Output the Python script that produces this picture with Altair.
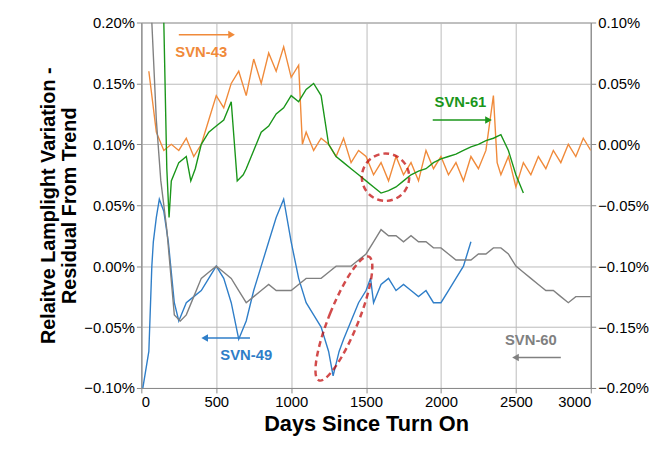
import pandas as pd
import altair as alt

# values in left-axis units (%); right axis = left - 0.10
days_43 = [50,100,150,200,250,300,350,400,450,500,550,600,650,700,750,800,850,900,950,1000,1050,1075,1100,1150,1200,1250,1300,1350,1400,1450,1500,1550,1600,1650,1700,1750,1800,1850,1900,1950,2000,2050,2100,2150,2200,2250,2300,2350,2375,2400,2450,2500,2550,2600,2650,2700,2750,2800,2850,2900,2950,3000]
svn_43 = [0.16,0.11,0.095,0.10,0.095,0.105,0.09,0.10,0.12,0.14,0.13,0.15,0.16,0.14,0.17,0.15,0.175,0.16,0.18,0.155,0.165,0.10,0.11,0.095,0.105,0.10,0.09,0.105,0.085,0.095,0.09,0.075,0.085,0.07,0.09,0.075,0.085,0.07,0.095,0.08,0.09,0.075,0.085,0.07,0.09,0.08,0.095,0.14,0.085,0.075,0.09,0.065,0.085,0.075,0.09,0.08,0.095,0.085,0.10,0.09,0.105,0.095]

days_61 = [150,170,185,200,250,300,330,360,400,450,500,550,600,640,680,700,750,800,850,900,950,1000,1050,1100,1150,1200,1250,1300,1350,1400,1450,1500,1550,1600,1650,1700,1750,1800,1850,1900,1950,2000,2050,2100,2150,2200,2250,2300,2350,2400,2450,2500,2550]
svn_61 = [0.20,0.08,0.04,0.07,0.085,0.09,0.07,0.08,0.10,0.11,0.115,0.12,0.135,0.07,0.075,0.08,0.095,0.11,0.115,0.125,0.13,0.14,0.135,0.145,0.15,0.14,0.10,0.09,0.085,0.08,0.075,0.07,0.065,0.06,0.062,0.065,0.07,0.075,0.078,0.08,0.085,0.088,0.09,0.092,0.095,0.098,0.10,0.103,0.105,0.108,0.095,0.075,0.06]

days_49 = [10,50,70,80,100,120,150,180,220,250,300,350,400,450,500,550,600,650,700,750,800,850,900,950,1000,1050,1100,1150,1200,1250,1280,1320,1350,1400,1450,1500,1530,1550,1600,1650,1700,1750,1800,1850,1900,1950,2000,2050,2100,2150,2200]
svn_49 = [-0.10,-0.07,0.0,0.02,0.04,0.055,0.045,0.02,-0.03,-0.045,-0.03,-0.025,-0.02,-0.01,0.0,-0.01,-0.03,-0.06,-0.045,-0.02,0.0,0.02,0.04,0.055,0.02,-0.01,-0.03,-0.04,-0.05,-0.07,-0.09,-0.07,-0.06,-0.045,-0.03,-0.02,-0.01,-0.03,-0.015,-0.01,-0.02,-0.015,-0.02,-0.025,-0.02,-0.03,-0.03,-0.02,-0.01,0.0,0.02]

days_60 = [70,100,130,170,220,260,300,350,400,450,500,550,600,650,700,750,800,850,900,950,1000,1050,1100,1150,1200,1250,1300,1350,1400,1450,1500,1550,1600,1650,1700,1750,1800,1850,1900,1950,2000,2050,2100,2150,2200,2250,2300,2350,2400,2450,2500,2550,2600,2650,2700,2750,2800,2850,2900,2950,3000]
svn_60 = [0.20,0.12,0.07,0.03,-0.04,-0.045,-0.04,-0.025,-0.01,-0.005,0.0,-0.005,-0.01,-0.02,-0.03,-0.025,-0.02,-0.015,-0.02,-0.02,-0.02,-0.015,-0.01,-0.01,-0.01,-0.005,0.0,0.0,0.0,0.005,0.01,0.02,0.03,0.025,0.025,0.02,0.025,0.02,0.02,0.015,0.015,0.01,0.005,0.005,0.005,0.01,0.01,0.015,0.015,0.01,0.0,-0.005,-0.01,-0.015,-0.02,-0.02,-0.025,-0.03,-0.025,-0.025,-0.025]

series = ["SVN-43", "SVN-61", "SVN-49", "SVN-60"]
colors = ["#F08A3A", "#1A961A", "#2F7EC8", "#808080"]
text_colors = ["#C55A11", "#178A17", "#2F7EC8", "#9A9A9A"]

rows = []
for name, d, v in [("SVN-43", days_43, svn_43), ("SVN-61", days_61, svn_61),
                   ("SVN-49", days_49, svn_49), ("SVN-60", days_60, svn_60)]:
    rows += [{"series": name, "day": a, "val": b} for a, b in zip(d, v)]
df = pd.DataFrame(rows)

label_df = pd.DataFrame({"series": series, "day": [400, 2130, 700, 2600],
                         "val": [0.176, 0.135, -0.073, -0.061]})
arrow_df = pd.DataFrame({"series": series, "x1": [250, 1945, 725, 2800],
                         "x2": [595, 2310, 430, 2505], "val": [0.19, 0.12, -0.059, -0.075],
                         "ang": [90, 90, 270, 270]})
ell_df = pd.DataFrame({"day": [1630, 1352], "val": [0.073, -0.043],
                       "shape": ["circle", "M -0.22 0 A 0.22 1 0 1 0 0.22 0 A 0.22 1 0 1 0 -0.22 0"],
                       "size": [2300, 18225], "ang": [0, 22]})

font = "Liberation Sans"
xs = alt.Scale(domain=[0, 3000], nice=False)
ys = alt.Scale(domain=[-0.10, 0.20], nice=False)
col = alt.Color("series:N", scale=alt.Scale(domain=series, range=colors), legend=None)

lines = alt.Chart(df).mark_line(strokeWidth=1.4, clip=True).encode(
    x=alt.X("day:Q", scale=xs, title="Days Since Turn On",
            axis=alt.Axis(values=list(range(0, 3001, 500)), format="d", labelFontSize=15,
                          titleFontSize=22, titleFont=font, labelFont=font, gridColor="#BBBBBB")),
    y=alt.Y("val:Q", scale=ys, title=["Relaitve Lamplight Variation -", "Residual From Trend"],
            axis=alt.Axis(values=[-0.10, -0.05, 0, 0.05, 0.10, 0.15, 0.20],
                          labelExpr="format(datum.value, '.2f') + '%'", labelFontSize=15,
                          titleFontSize=20, titleFont=font, labelFont=font, gridColor="#BBBBBB")),
    color=col, detail="series:N")

labels = alt.Chart(label_df).mark_text(fontSize=15, fontWeight="bold", font=font).encode(
    x=alt.X("day:Q", scale=xs), y=alt.Y("val:Q", scale=ys),
    color=alt.Color("series:N", scale=alt.Scale(domain=series, range=text_colors), legend=None),
    text="series:N")

shafts = alt.Chart(arrow_df).mark_rule(strokeWidth=1.5).encode(
    x=alt.X("x1:Q", scale=xs), x2="x2:Q", y=alt.Y("val:Q", scale=ys),
    color=alt.Color("series:N", scale=alt.Scale(domain=series, range=text_colors), legend=None))
heads = alt.Chart(arrow_df).mark_point(shape="triangle", filled=True, size=60, opacity=1).encode(
    x=alt.X("x2:Q", scale=xs), y=alt.Y("val:Q", scale=ys), angle=alt.Angle("ang:Q", scale=None),
    color=alt.Color("series:N", scale=alt.Scale(domain=series, range=text_colors), legend=None))

ellipses = alt.Chart(ell_df).mark_point(color="#C00000", strokeWidth=2.5, strokeDash=[6, 4]).encode(
    x=alt.X("day:Q", scale=xs), y=alt.Y("val:Q", scale=ys),
    shape=alt.Shape("shape:N", scale=None), size=alt.Size("size:Q", scale=None),
    angle=alt.Angle("ang:Q", scale=None))

left = alt.layer(lines, labels, shafts, heads, ellipses)

right = alt.Chart(pd.DataFrame({"day": [0, 3000], "v": [-0.20, 0.10]})).mark_point(opacity=0).encode(
    x=alt.X("day:Q", scale=xs),
    y=alt.Y("v:Q", scale=alt.Scale(domain=[-0.20, 0.10], nice=False), title=None,
            axis=alt.Axis(orient="right", values=[-0.20, -0.15, -0.10, -0.05, 0, 0.05, 0.10],
                          labelExpr="format(datum.value, '.2f') + '%'", labelFontSize=15,
                          labelFont=font, grid=False)))

chart = alt.layer(left, right).resolve_scale(y="independent").properties(
    width=455, height=370, padding={"left": 30, "top": 5, "right": 5, "bottom": 5}
).configure_view(stroke="#888888").configure_axis(
    domainColor="#888888", tickColor="#888888", labelColor="#000000")

chart.save("out.html", embed_options={"renderer": "svg", "actions": False})
